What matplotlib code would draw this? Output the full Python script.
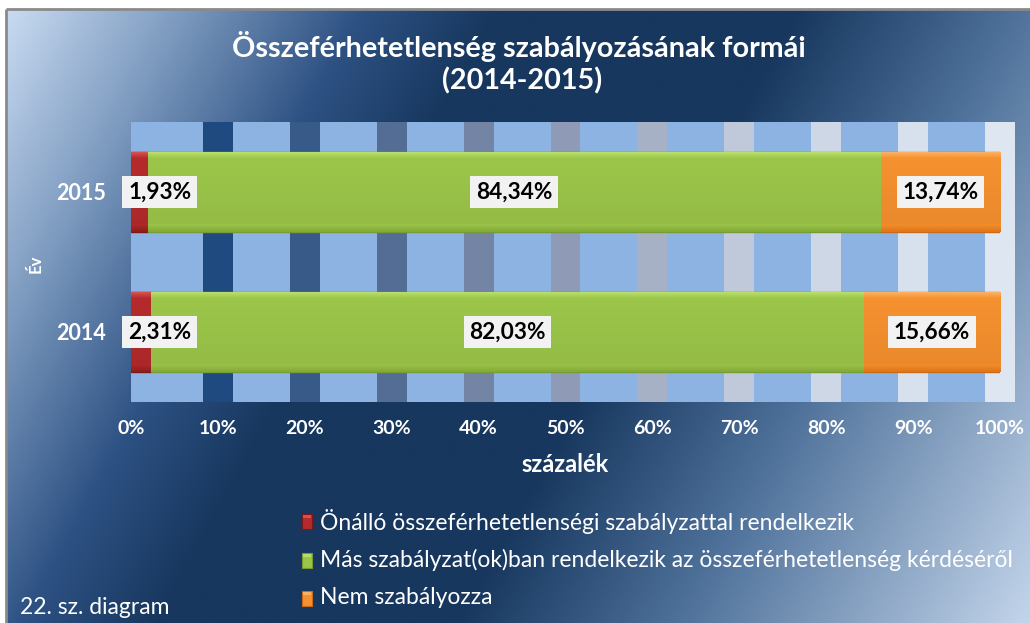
import numpy as np
import matplotlib
matplotlib.use("Agg")
import matplotlib.pyplot as plt
from matplotlib.colors import LinearSegmentedColormap, to_rgb
from matplotlib.patches import Rectangle

# ---------------- data ----------------
years = ["2014", "2015"]
series_names = [
    "Önálló összeférhetetlenségi szabályzattal rendelkezik",
    "Más szabályzat(ok)ban rendelkezik az összeférhetetlenség kérdéséről",
    "Nem szabályozza",
]
onallo = [2.31, 1.93]
mas = [82.03, 84.34]
nem = [15.66, 13.74]
xticks = [0, 10, 20, 30, 40, 50, 60, 70, 80, 90, 100]
xtick_labels = [f"{v}%" for v in xticks]
title_line1 = "Összeférhetetlenség szabályozásának formái"
title_line2 = "(2014-2015)"
xlabel = "százalék"
ylabel = "Év"
footnote = "22. sz. diagram"

# ---------------- style ----------------
FONT = ["Lato", "DejaVu Sans"]
plt.rcParams["font.family"] = FONT
W, H = 1030, 623
base_colors = ["#b52b2b", "#9cc64a", "#f6912f"]
top_colors = ["#d65050", "#b8de6a", "#fbb062"]
bot_colors = ["#8e1d1d", "#84ab38", "#df7619"]
edge_colors = ["#7d1818", "#779c33", "#c96a18"]
stripe_colors = ["#1f4a80", "#385a88", "#546d95", "#7384a5", "#8e9ab6",
                 "#a6b1c6", "#bfc9da", "#cdd7e6", "#d7e1ee", "#dde6f1"]

fig = plt.figure(figsize=(W / 100, H / 100), dpi=100)
fig.patch.set_facecolor("white")

# background axes in pixel coords
bg = fig.add_axes([0, 0, 1, 1])
bg.set_xlim(0, W)
bg.set_ylim(H, 0)
bg.axis("off")

cmap = LinearSegmentedColormap.from_list(
    "bggrad",
    [(0.0, "#c8daf1"), (0.12, "#819ec2"), (0.26, "#2d5183"),
     (0.36, "#17375e"), (0.58, "#17375e"), (0.74, "#4d7099"),
     (1.0, "#c2d4ea")])
gx = np.linspace(0, 1, 400)
gy = np.linspace(0, 1, 250)
GX, GY = np.meshgrid(gx, gy)
T = 0.75 * GX + 0.25 * GY
bg.imshow(T, cmap=cmap, extent=(7, W, H, 9), aspect="auto",
          interpolation="bilinear", zorder=0)
bg.plot([6, W], [9, 9], color="#8a8a8a", lw=2, zorder=1, solid_capstyle="butt")
bg.plot([6, 6], [9, H], color="#8a8a8a", lw=2, zorder=1, solid_capstyle="butt")


def bevel_fill(axis, patch, i, n=60):
    """Overlay a vertical bevel gradient clipped to a patch."""
    x0, y0 = patch.get_x(), patch.get_y()
    w, h = patch.get_width(), patch.get_height()
    top = np.array(to_rgb(top_colors[i]))
    mid = np.array(to_rgb(base_colors[i]))
    bot = np.array(to_rgb(bot_colors[i]))
    rows = []
    for k in range(n):
        f = k / (n - 1)
        if f < 0.07:
            c = top + (mid - top) * (f / 0.07)
        elif f > 0.9:
            c = mid + (bot - mid) * ((f - 0.9) / 0.1)
        else:
            c = mid * (1.0 - 0.05 * (f - 0.07) / 0.83)
        rows.append(c)
    img = np.array(rows).reshape(n, 1, 3)
    im = axis.imshow(img, extent=(x0, x0 + w, y0, y0 + h), origin="upper",
                     aspect="auto", interpolation="bilinear", zorder=2.1)
    im.set_clip_path(patch)


# ---------------- main axes ----------------
ax = fig.add_axes([131 / W, 221 / H, 869 / W, 280 / H])
ax.set_facecolor("#8db3e2")
for s in ax.spines.values():
    s.set_visible(False)

for tick, col in zip(xticks[1:], stripe_colors):
    ax.axvspan(tick - 1.72, tick + 1.72, color=col, zorder=0.5, lw=0,
               clip_on=False)

ypos = np.arange(len(years))
series = [onallo, mas, nem]
left = np.zeros(len(years))
bar_h = 0.57
for i, vals in enumerate(series):
    bars = ax.barh(ypos, vals, left=left, height=bar_h, color=base_colors[i],
                   edgecolor=edge_colors[i], linewidth=1.0, zorder=2)
    for p in bars.patches:
        bevel_fill(ax, p, i)
    for j, v in enumerate(vals):
        cx = left[j] + v / 2
        cx = max(cx, 3.3)
        ax.text(cx, ypos[j], f"{v:.2f}%".replace(".", ","), ha="center",
                va="center", fontsize=16.3, fontweight="bold", color="black",
                zorder=5,
                bbox=dict(boxstyle="square,pad=0.25", fc="#f2f2f2", ec="none"))
    left = left + np.array(vals)

ax.set_xlim(0, 100)
ax.set_ylim(-0.5, 1.5)
ax.set_xticks(xticks)
ax.set_xticklabels(xtick_labels)
ax.set_yticks(ypos)
ax.set_yticklabels(years)
ax.tick_params(axis="x", length=0, pad=13, labelsize=14, labelcolor="white")
ax.tick_params(axis="y", length=0, pad=18, labelsize=15.5, labelcolor="white")
for lab in ax.get_xticklabels() + ax.get_yticklabels():
    lab.set_fontweight("bold")

# ---------------- texts ----------------
fig.text(519 / W, 1 - 47 / H, title_line1, ha="center", va="center",
         fontsize=20.7, fontweight="bold", color="white")
fig.text(522 / W, 1 - 81 / H, title_line2, ha="center", va="center",
         fontsize=20.7, fontweight="bold", color="white")
fig.text(565 / W, 1 - 465 / H, xlabel, ha="center", va="center",
         fontsize=17, fontweight="bold", color="white")
fig.text(36 / W, 1 - 264 / H, ylabel, ha="center", va="center", rotation=90,
         fontsize=12, fontweight="bold", color="white")
fig.text(20 / W, 1 - 607 / H, footnote, ha="left", va="center",
         fontsize=16.5, color="white")

# ---------------- legend (manual) ----------------
leg_rows = [521, 560, 598]
for i, (name, yc) in enumerate(zip(series_names, leg_rows)):
    r = Rectangle((302, yc - 7.5), 10, 15, facecolor=base_colors[i],
                  edgecolor=edge_colors[i], lw=0.8, zorder=3)
    bg.add_patch(r)
    bg.add_patch(Rectangle((303, yc - 6.5), 8, 3, facecolor=top_colors[i],
                           edgecolor="none", zorder=4))
    bg.text(320, yc, name, ha="left", va="center", fontsize=16.5,
            color="white", zorder=4)

fig.savefig("out.png", dpi=100, facecolor=fig.get_facecolor())
